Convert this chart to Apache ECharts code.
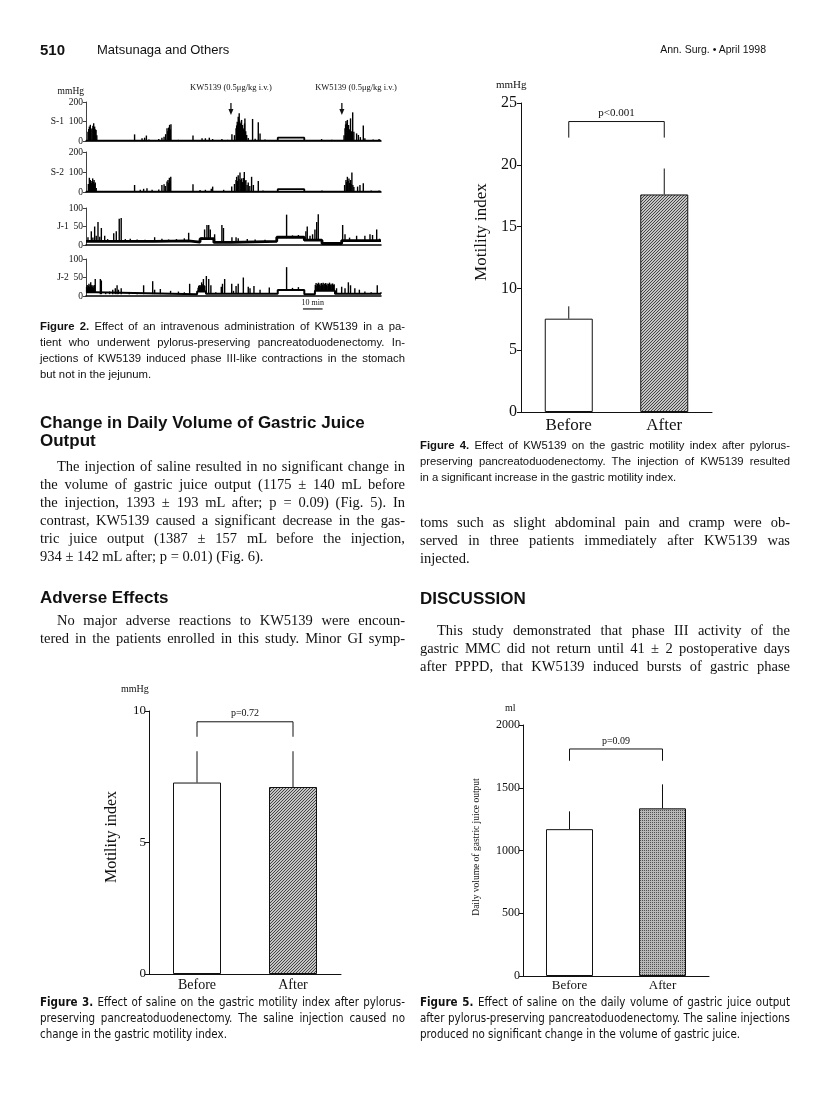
<!DOCTYPE html>
<html><head><meta charset="utf-8">
<script src="https://cdn.jsdelivr.net/npm/echarts@6/dist/echarts.min.js"></script>
<style>
html,body{margin:0;padding:0;background:#fff;}
#page{position:relative;width:816px;height:1113px;overflow:hidden;background:#fff;}
#chart{position:absolute;left:0;top:0;width:816px;height:1113px;}
.t{position:absolute;white-space:nowrap;color:#111;}
.serif{font-family:"Liberation Serif","Times New Roman",serif;}
.sans{font-family:"Liberation Sans",Arial,sans-serif;}
.narrow{font-family:"Liberation Sans Narrow","DejaVu Sans Condensed","Liberation Sans",sans-serif;}
</style></head>
<body><div id="page"><div id="chart"></div></div>
<script>
// ---------- Figure 2 data (time in minutes, pressure in mmHg) ----------
const injections = [[73.7, 73.7], [130.1, 137.3]]; // [arrow time, label centre time]
const injectionLabel = 'KW5139 (0.5\u03bcg/kg i.v.)';
const scaleBar = [110.3, 10]; // start, minutes
const traceNames = ['S-1', 'S-2', 'J-1', 'J-2'];
const traceMax = [200, 200, 100, 100];
const traceInterval = [100, 100, 50, 50];

const S1_base = [[0, 150, 3]];
const S1_plateau = [97.5, 111, 17];
const S1_spikes = [[1.0,48],[1.4,62],[1.7,74],[2.0,55],[2.2,83],[2.6,60],[3.1,66],[3.5,78],[3.9,91],[4.2,70],[4.4,74],[4.8,60],[5.1,57],[5.5,30],
[24.7,34],[28.5,14],[29.8,17],[30.7,28],[32,8],[37,10],[38.6,17],[39.7,22],[40.5,35],[41.2,66],[41.6,50],[42,69],[42.5,83],[42.9,60],[43.2,86],
[47,6],[54.4,28],[59,14],[60.7,14],[62.7,17],[64.4,10],[69.1,10],[72,6],[74.2,34],
[75.5,30],[76.3,65],[76.6,80],[76.9,99],[77.2,90],[77.4,125],[77.7,110],[77.9,142],[78.2,100],[78.6,91],[78.9,70],[79.1,108],[79.4,75],[79.6,82],[80,60],[80.3,65],[80.6,90],[80.8,116],[81.2,50],[81.7,31],[82.5,15],[84.7,113],[86,12],[87.6,96],[88.5,39],[91,8],
[119.8,10],[125,6],
[131.2,30],[131.7,65],[132,85],[132.2,103],[132.6,90],[132.9,108],[133.2,70],[133.5,82],[133.9,60],[134.5,116],[134.9,50],[135.6,147],[136.2,48],[137.6,39],[138.5,31],[139.5,20],[141,79],[141.8,14],[146,8],[149,10]];

const S2_base = [[0, 150, 3]];
const S2_plateau = [97.5, 111, 14];
const S2_spikes = [[1.2,40],[1.7,71],[2.0,50],[2.2,60],[2.7,45],[3.0,55],[3.4,68],[3.8,50],[4.1,60],[4.4,40],[4.7,48],[5.2,20],
[24.7,35],[27.6,11],[29.3,16],[31,19],[33.6,11],[37,12],[38.6,35],[39.7,39],[40.3,30],[41.2,52],[41.7,60],[42.1,45],[42.4,71],[42.8,55],[43.1,76],
[54.4,39],[58,10],[60.7,11],[63.7,16],[64.4,27],[70,11],[74.1,27],
[75.5,40],[76.3,60],[76.6,76],[77,55],[77.4,84],[77.8,65],[78.3,97],[78.7,60],[79.1,68],[79.5,50],[80,70],[80.5,100],[80.9,55],[81.3,60],[81.9,35],[82.5,48],[83.3,30],[84.2,76],[85.1,35],[87.6,55],[90,8],
[120,8],
[131.5,35],[132.2,60],[132.5,50],[132.9,76],[133.3,55],[133.7,68],[134.1,45],[134.5,60],[134.8,40],[135.2,97],[135.7,35],[136.2,25],[138.1,27],[139.3,35],[141,44],[145,8],[149,8]];

const J1_base = [[0,35,10],[35,52,11],[52,58,8],[58,65,17],[65,74,7],[74,97,10],[97,111,21],[111,120,13],[120,130,4],[130,150,12]];
const J1_plateau = null;
const J1_spikes = [[1.0,21],[2.7,37],[3.5,20],[4.4,50],[5.2,25],[6.1,62],[7.0,22],[7.8,46],[9.5,25],[11,16],[14.1,32],[15.4,37],[16.9,71],[17.9,73],[20,16],[22.5,17],[26,15],[30,14],[34.9,21],[38.6,17],[42,15],[46,16],[50,18],[52.2,33],[59,21],[60.3,42],[61.5,54],[62.4,54],[63.2,42],[65.4,29],[69.1,54],[69.9,46],[74.2,21],[76.3,21],[77.4,18],[82,16],[86,15],[91,14],[102,82],[105,26],[108,27],[111.8,37],[112.5,50],[113.9,25],[115.2,29],[116.4,42],[117.3,62],[118.1,83],[130.5,54],[131.7,29],[134,20],[137.6,25],[141.8,25],[144.4,29],[145.7,27],[147.8,42],[149.2,17]];

const J2_base = [[0,5,10],[5,56.5,5],[56.5,61,12],[61,97.5,6],[97.5,111,16],[111,116.4,5],[116.4,126.6,14],[126.6,150,6]];
const J2_plateau = null;
const J2_spikes = [[0.3,25],[0.6,30],[0.9,22],[1.2,28],[1.5,33],[1.8,25],[2.1,30],[2.4,37],[2.7,26],[3.0,30],[3.3,24],[3.6,28],[3.9,22],[4.2,30],[4.7,46],
[7.3,46],[7.8,42],[10,10],[12,12],[13.6,17],[14.9,21],[15.8,29],[16.5,17],[17.9,21],[22,10],[26,9],[29.3,29],[33.9,40],[34.9,17],[37.8,19],[43,14],[47,12],[50,10],[52.7,33],
[57,22],[57.3,28],[57.6,25],[57.9,30],[58.2,26],[58.5,29],[58.8,37],[59.1,28],[59.4,32],[59.7,46],[60,30],[60.4,27],[61.2,54],[62.4,46],[63.5,29],[66,10],[68.8,25],[69.4,33],[70.5,46],[74.1,33],[75,14],[76.3,27],[77.4,33],[80,50],[82.5,25],[83.4,21],[85.4,27],[88.5,17],[93.2,23],[102,78],[105,22],[108,24],
[116.6,30],[117,35],[117.4,28],[117.8,33],[118.2,36],[118.6,30],[119,34],[119.4,28],[119.8,35],[120.2,31],[120.6,36],[121,29],[121.4,33],[121.8,35],[122.2,30],[122.6,34],[123,28],[123.4,33],[123.8,36],[124.2,30],[124.6,33],[125,29],[125.4,34],[125.8,30],[126.2,32],
[127.4,21],[130,25],[131.7,21],[133.4,37],[134.5,29],[136.7,21],[139,17],[141.8,12],[145,10],[148.1,29],[150,10]];

// ---------- Bar figures ----------
const groups = ['Before', 'After'];
const fig4_mean = [7.55, 17.6];
const fig4_err = [8.55, 19.7];
const fig4_bracket = [23.5, 22.2, 'p<0.001'];
const fig4_ticks = [0, 5, 10, 15, 20, 25];

const fig3_mean = [7.28, 7.11];
const fig3_err = [8.47, 8.47];
const fig3_bracket = [9.59, 9.02, 'p=0.72'];
const fig3_ticks = [0, 5, 10];

const fig5_mean = [1170, 1336];
const fig5_err = [1312, 1527];
const fig5_bracket = [1809, 1715, 'p=0.09'];
const fig5_ticks = [0, 500, 1000, 1500, 2000];

// ---------- helpers ----------
function pattern(kind) {
  const c = document.createElement('canvas');
  const g = c.getContext('2d');
  if (kind === 'hatch') {
    c.width = c.height = 3;
    g.fillStyle = '#c4c4c4'; g.fillRect(0, 0, 3, 3);
    g.fillStyle = '#444';
    for (let i = 0; i < 3; i++) g.fillRect(i, 2 - i, 1, 1);
  } else {
    c.width = c.height = 2;
    g.fillStyle = '#b8b8b8'; g.fillRect(0, 0, 2, 2);
    g.fillStyle = '#505050'; g.fillRect(0, 0, 1, 1);
  }
  return { image: c, repeat: 'repeat' };
}
function baseAt(segs, t) {
  for (const s of segs) if (t >= s[0] && t <= s[1]) return s[2];
  return segs[segs.length - 1][2];
}
const SERIF = '"Liberation Serif","Times New Roman",serif';

const traces = [
  { base: S1_base, plateau: S1_plateau, spikes: S1_spikes, lw: 1.5 },
  { base: S2_base, plateau: S2_plateau, spikes: S2_spikes, lw: 1.5 },
  { base: J1_base, plateau: J1_plateau, spikes: J1_spikes, lw: 2.8 },
  { base: J2_base, plateau: J2_plateau, spikes: J2_spikes, lw: 2.0 }
];
const traceGrids = [
  { left: 86, top: 102, width: 295, height: 39 },
  { left: 86, top: 152, width: 295, height: 40 },
  { left: 86, top: 208, width: 295, height: 37 },
  { left: 86, top: 259, width: 295, height: 37 }
];
const barFigs = [
  { grid: { left: 521, top: 103, width: 191, height: 309 }, mean: fig4_mean, err: fig4_err, br: fig4_bracket, ticks: fig4_ticks,
    max: 25, interval: 5, fs: 16, cfs: 17, bw: 48, pat: 'hatch', name: 'Motility index', nfs: 17, nx: 482, ny: 232, pfs: 11, lm: 4, cm: 5 },
  { grid: { left: 149, top: 711, width: 192, height: 263 }, mean: fig3_mean, err: fig3_err, br: fig3_bracket, ticks: fig3_ticks,
    max: 10, interval: 5, fs: 13, cfs: 14, bw: 48, pat: 'hatch', name: 'Motility index', nfs: 16, nx: 112, ny: 837, pfs: 10, lm: 3, cm: 4 },
  { grid: { left: 523, top: 725, width: 186, height: 251 }, mean: fig5_mean, err: fig5_err, br: fig5_bracket, ticks: fig5_ticks,
    max: 2000, interval: 500, fs: 12, cfs: 13, bw: 47, pat: 'dots', name: 'Daily volume of gastric juice output', nfs: 9.5, nx: 476, ny: 847, pfs: 10, lm: 3, cm: 3 }
];

const grid = [], xAxis = [], yAxis = [], series = [];
// traces
traces.forEach((tr, i) => {
  grid.push(traceGrids[i]);
  xAxis.push({ type: 'value', gridIndex: i, min: 0, max: 150, axisLine: { show: true, lineStyle: { color: '#000', width: 1.5 } },
    axisTick: { show: false }, axisLabel: { show: false }, splitLine: { show: false } });
  yAxis.push({ type: 'value', gridIndex: i, min: 0, max: traceMax[i], interval: traceInterval[i],
    name: i === 0 ? 'mmHg' : '', nameLocation: 'end', nameGap: 6,
    nameTextStyle: { fontFamily: SERIF, fontSize: 9.5, color: '#111', align: 'right', padding: [0, 2, 0, 0] },
    axisLine: { show: true, lineStyle: { color: '#111', width: 0.8 } },
    axisTick: { show: true, length: 3, lineStyle: { color: '#111', width: 0.8 } },
    splitLine: { show: false },
    axisLabel: { fontFamily: SERIF, fontSize: 9.5, color: '#111', margin: 3,
      formatter: v => (v === traceInterval[i] ? traceNames[i] + '  ' + v : String(v)) } });
  const bl = [];
  tr.base.forEach(s => { bl.push([s[0], s[2]]); bl.push([s[1], s[2]]); });
  series.push({ type: 'line', xAxisIndex: i, yAxisIndex: i, data: bl, symbol: 'none', silent: true,
    lineStyle: { color: '#000', width: tr.lw }, animation: false });
  if (tr.plateau) {
    const p = tr.plateau, b = baseAt(tr.base, p[0]);
    series.push({ type: 'line', xAxisIndex: i, yAxisIndex: i, symbol: 'none', silent: true, animation: false,
      data: [[p[0], b], [p[0], p[2]], [p[1], p[2]], [p[1], b]], lineStyle: { color: '#000', width: 1.8 } });
  }
  series.push({ type: 'custom', xAxisIndex: i, yAxisIndex: i, silent: true, animation: false,
    data: tr.spikes.map(s => [s[0], s[1], baseAt(tr.base, s[0])]),
    encode: { x: 0, y: 1 },
    renderItem: (params, api) => {
      const p0 = api.coord([api.value(0), api.value(2)]);
      const p1 = api.coord([api.value(0), api.value(1)]);
      return { type: 'line', shape: { x1: p0[0], y1: p0[1], x2: p1[0], y2: p1[1] }, style: { stroke: '#000', lineWidth: 1.4 } };
    } });
});
// injection arrows on S-1
series.push({ type: 'custom', xAxisIndex: 0, yAxisIndex: 0, silent: true, animation: false, clip: false,
  data: injections, encode: { x: 0 },
  renderItem: (params, api) => {
    const t = api.value(0), lt = api.value(1);
    const a = api.coord([t, 195]), b = api.coord([t, 133]), l = api.coord([lt, 272]);
    return { type: 'group', children: [
      { type: 'line', shape: { x1: a[0], y1: a[1], x2: b[0], y2: b[1] - 5 }, style: { stroke: '#111', lineWidth: 1.3 } },
      { type: 'polygon', shape: { points: [[b[0] - 2.5, b[1] - 6], [b[0] + 2.5, b[1] - 6], [b[0], b[1]]] }, style: { fill: '#111' } },
      { type: 'text', x: l[0], y: l[1], style: { text: injectionLabel, fontFamily: SERIF, fontSize: 8.5, fill: '#111', align: 'center', verticalAlign: 'middle' } }
    ] };
  } });
// scale bar on J-2
series.push({ type: 'custom', xAxisIndex: 3, yAxisIndex: 3, silent: true, animation: false, clip: false,
  data: [scaleBar], encode: { x: 0 },
  renderItem: (params, api) => {
    const s = api.value(0), m = api.value(1);
    const a = api.coord([s, -35]), b = api.coord([s + m, -35]), c = api.coord([s + m / 2, -20]);
    return { type: 'group', children: [
      { type: 'line', shape: { x1: a[0], y1: a[1], x2: b[0], y2: b[1] }, style: { stroke: '#111', lineWidth: 1.2 } },
      { type: 'text', x: c[0], y: c[1], style: { text: m + ' min', fontFamily: SERIF, fontSize: 8, fill: '#111', align: 'center', verticalAlign: 'middle' } }
    ] };
  } });

const graphic = [
  { type: 'text', left: 496, top: 80, style: { text: 'mmHg', fontFamily: SERIF, fontSize: 11, fill: '#111' } },
  { type: 'text', left: 121, top: 684, style: { text: 'mmHg', fontFamily: SERIF, fontSize: 10, fill: '#111' } },
  { type: 'text', left: 505, top: 703, style: { text: 'ml', fontFamily: SERIF, fontSize: 10, fill: '#111' } }
];

// bar figures
barFigs.forEach((f, k) => {
  const gi = 4 + k;
  grid.push(f.grid);
  graphic.push({ type: 'text', x: f.nx, y: f.ny, rotation: Math.PI / 2,
    style: { text: f.name, fontFamily: SERIF, fontSize: f.nfs, fill: '#111', align: 'center', verticalAlign: 'middle' } });
  xAxis.push({ type: 'category', gridIndex: gi, data: groups,
    axisLine: { show: true, lineStyle: { color: '#111', width: 1 } }, axisTick: { show: false },
    axisLabel: { fontFamily: SERIF, fontSize: f.cfs, color: '#111', margin: f.cm } });
  yAxis.push({ type: 'value', gridIndex: gi, min: 0, max: f.max, interval: f.interval,
    axisLine: { show: true, lineStyle: { color: '#111', width: 1 } },
    axisTick: { show: true, length: 4, lineStyle: { color: '#111' } },
    splitLine: { show: false },
    axisLabel: { fontFamily: SERIF, fontSize: f.fs, color: '#111', margin: f.lm,
      formatter: v => (f.ticks.indexOf(v) >= 0 ? String(v) : '') } });
  series.push({ type: 'bar', xAxisIndex: gi, yAxisIndex: gi, barWidth: f.bw, silent: true, animation: false,
    data: f.mean.map((v, j) => ({ value: v, itemStyle: { color: j === 0 ? '#fff' : pattern(f.pat), borderColor: '#111', borderWidth: 1 } })) });
  series.push({ type: 'custom', xAxisIndex: gi, yAxisIndex: gi, silent: true, animation: false, clip: false,
    data: f.mean.map((v, j) => [j, v, f.err[j]]), encode: { x: 0, y: 2 },
    renderItem: (params, api) => {
      const a = api.coord([api.value(0), api.value(1)]), b = api.coord([api.value(0), api.value(2)]);
      return { type: 'line', shape: { x1: a[0], y1: a[1], x2: b[0], y2: b[1] }, style: { stroke: '#111', lineWidth: 1 } };
    } });
  series.push({ type: 'custom', xAxisIndex: gi, yAxisIndex: gi, silent: true, animation: false, clip: false,
    data: [[0, 1, f.br[0], f.br[1]]], encode: { x: 0, y: 2 },
    renderItem: (params, api) => {
      const top = api.value(2), leg = api.value(3);
      const a = api.coord([0, leg]), b = api.coord([0, top]), c = api.coord([1, top]), d = api.coord([1, leg]);
      const m = [(b[0] + c[0]) / 2, b[1] - 8];
      return { type: 'group', children: [
        { type: 'polyline', shape: { points: [a, b, c, d] }, style: { stroke: '#111', lineWidth: 1, fill: null } },
        { type: 'text', x: m[0], y: m[1], style: { text: f.br[2], fontFamily: SERIF, fontSize: f.pfs, fill: '#111', align: 'center', verticalAlign: 'middle' } }
      ] };
    } });
});

const chart = echarts.init(document.getElementById('chart'), null, { renderer: 'canvas' });
chart.setOption({ animation: false, backgroundColor: 'transparent', grid, xAxis, yAxis, series, graphic });

// ---------- page text ----------
const L = 40, LW = 365, R = 420, RW = 370;
const texts = [
  { c: 'sans', s: 15, b: 1, x: 40, y: 49, t: '510' },
  { c: 'sans', s: 13, x: 97, y: 49, t: 'Matsunaga and Others' },
  { c: 'sans', s: 10.5, r: 766, y: 49, t: 'Ann. Surg. \u2022 April 1998' },
  // Figure 2 caption
  { c: 'sans', s: 11.3, x: L, y: 327, w: LW, t: '<b>Figure 2.</b> Effect of an intravenous administration of KW5139 in a pa-' },
  { c: 'sans', s: 11.3, x: L, y: 343, w: LW, t: 'tient who underwent pylorus-preserving pancreatoduodenectomy. In-' },
  { c: 'sans', s: 11.3, x: L, y: 359, w: LW, t: 'jections of KW5139 induced phase III-like contractions in the stomach' },
  { c: 'sans', s: 11.3, x: L, y: 375, t: 'but not in the jejunum.' },
  // left body
  { c: 'sans', s: 17, b: 1, x: L, y: 422, t: 'Change in Daily Volume of Gastric Juice' },
  { c: 'sans', s: 17, b: 1, x: L, y: 440, t: 'Output' },
  { c: 'serif', s: 14.5, x: 57, y: 466, w: 348, t: 'The injection of saline resulted in no significant change in' },
  { c: 'serif', s: 14.5, x: L, y: 484, w: LW, t: 'the volume of gastric juice output (1175 \u00b1 140 mL before' },
  { c: 'serif', s: 14.5, x: L, y: 502, w: LW, t: 'the injection, 1393 \u00b1 193 mL after; p = 0.09) (Fig. 5). In' },
  { c: 'serif', s: 14.5, x: L, y: 520, w: LW, t: 'contrast, KW5139 caused a significant decrease in the gas-' },
  { c: 'serif', s: 14.5, x: L, y: 538, w: LW, t: 'tric juice output (1387 \u00b1 157 mL before the injection,' },
  { c: 'serif', s: 14.5, x: L, y: 556, t: '934 \u00b1 142 mL after; p = 0.01) (Fig. 6).' },
  { c: 'sans', s: 17, b: 1, x: L, y: 597, t: 'Adverse Effects' },
  { c: 'serif', s: 14.5, x: 57, y: 620, w: 348, t: 'No major adverse reactions to KW5139 were encoun-' },
  { c: 'serif', s: 14.5, x: L, y: 638, w: LW, t: 'tered in the patients enrolled in this study. Minor GI symp-' },
  // Figure 4 caption
  { c: 'sans', s: 11.3, x: R, y: 446, w: RW, t: '<b>Figure 4.</b> Effect of KW5139 on the gastric motility index after pylorus-' },
  { c: 'sans', s: 11.3, x: R, y: 462, w: RW, t: 'preserving pancreatoduodenectomy. The injection of KW5139 resulted' },
  { c: 'sans', s: 11.3, x: R, y: 478, t: 'in a significant increase in the gastric motility index.' },
  // right body
  { c: 'serif', s: 14.5, x: R, y: 522, w: RW, t: 'toms such as slight abdominal pain and cramp were ob-' },
  { c: 'serif', s: 14.5, x: R, y: 540, w: RW, t: 'served in three patients immediately after KW5139 was' },
  { c: 'serif', s: 14.5, x: R, y: 558, t: 'injected.' },
  { c: 'sans', s: 17, b: 1, x: R, y: 598, t: 'DISCUSSION' },
  { c: 'serif', s: 14.5, x: 437, y: 630, w: 353, t: 'This study demonstrated that phase III activity of the' },
  { c: 'serif', s: 14.5, x: R, y: 648, w: RW, t: 'gastric MMC did not return until 41 \u00b1 2 postoperative days' },
  { c: 'serif', s: 14.5, x: R, y: 666, w: RW, t: 'after PPPD, that KW5139 induced bursts of gastric phase' },
  // Figure 3 caption
  { c: 'narrow', s: 11.5, x: L, y: 1003, w: LW, t: '<b>Figure 3.</b> Effect of saline on the gastric motility index after pylorus-' },
  { c: 'narrow', s: 11.5, x: L, y: 1019, w: LW, t: 'preserving pancreatoduodenectomy. The saline injection caused no' },
  { c: 'narrow', s: 11.5, x: L, y: 1035, t: 'change in the gastric motility index.' },
  // Figure 5 caption
  { c: 'narrow', s: 11.5, x: R, y: 1003, w: RW, t: '<b>Figure 5.</b> Effect of saline on the daily volume of gastric juice output' },
  { c: 'narrow', s: 11.5, x: R, y: 1019, w: RW, t: 'after pylorus-preserving pancreatoduodenectomy. The saline injections' },
  { c: 'narrow', s: 11.5, x: R, y: 1035, t: 'produced no significant change in the volume of gastric juice.' }
];
const page = document.getElementById('page');
texts.forEach(T => {
  const d = document.createElement('div');
  d.className = 't ' + T.c;
  d.style.fontSize = T.s + 'px';
  d.style.lineHeight = T.s + 'px';
  d.style.top = (T.y - T.s / 2) + 'px';
  if (T.b) d.style.fontWeight = 'bold';
  d.innerHTML = T.t;
  page.appendChild(d);
  const wNat = d.getBoundingClientRect().width;
  if (T.w) {
    const sp = (d.textContent.match(/ /g) || []).length;
    if (sp) d.style.wordSpacing = ((T.w - wNat) / sp) + 'px';
  }
  d.style.left = (T.r ? T.r - wNat : T.x) + 'px';
});
</script></body></html>
